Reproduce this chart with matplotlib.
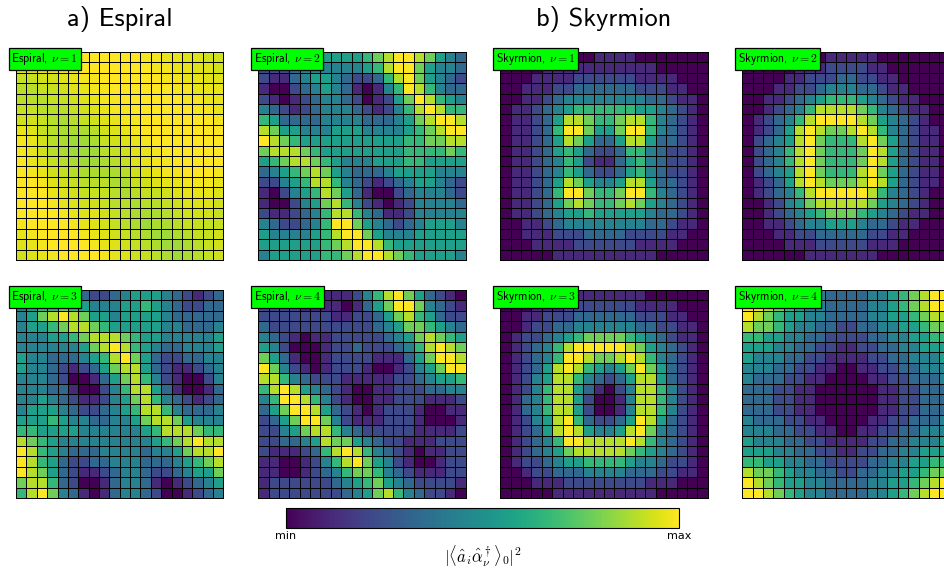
import numpy as np
import matplotlib.pyplot as plt
from matplotlib.cm import ScalarMappable
from matplotlib.colors import Normalize

plt.rcParams['mathtext.fontset'] = 'cm'

# intensity levels, 0 (dark) .. 9 (bright), 20x20 cells, top row first
espiral_1 = ["77888999999988776655", "66778899999998877665", "44556788999999887766",
             "33445678899999988777", "33344567889999998877", "44333456788999999887",
             "55432345678899999998", "76432223567899999999", "87532112456789999999",
             "87532111345678999999", "97643211234678899999", "98754322223567889998",
             "99865433322456778887", "99976544432344567776", "99987655433233456665",
             "99998766543222345554", "89999876543212234444", "78999987654321123445",
             "67899998765432112345", "56789999876543212345"]
espiral_2 = ["33344555556789987543", "22234444445689975443", "21134554322368975432",
             "10023454310146986433", "21012344320125798654", "43212344432124689866",
             "65333344443334578998", "87554445554444567899", "98765555555555667788",
             "78887655555555666676", "56788765444555665555", "34567875433345555444",
             "22456886432123455432", "10245687531002344432", "10024578642101244443",
             "21123468864311244444", "43223469975432345554", "54444568997544455555",
             "55555567899865555555", "45555566789987655554"]
espiral_3 = ["33455432234555432123", "45667654445565432233", "45789875545555433333",
             "45567887655555443334", "44455678887655444445", "44444457898654334445",
             "54433345689753223344", "54432123578853211234", "44432001357864210024",
             "44433100246885310013", "44543211245786432123", "45554322345688643334",
             "55565443344578875444", "66555544444456888766", "87654444444445678988",
             "98654333444434457889", "98653223344433345678", "98753211234432234557",
             "78863200134431012345", "68974310134432001234"]
espiral_4 = ["22221111124689753210", "22221111013579974321", "22222221122357865322",
             "32222222222345776543", "43210112222234578765", "54200012232223468987",
             "75310012222111357998", "97421012221001245799", "88643222111112234556",
             "68985432100112223344", "46998642100112221112", "35799853210122210011",
             "23579974211122210001", "22457886432222211112", "22334587754322111222",
             "21112368986432101122", "11001246897542100122", "11001234677643211122",
             "12222223456754322221", "12222222345786432210"]
skyrmion_1 = ["00000000011110000000", "00001111111111100000", "00011112222221111000",
              "00111223333332221100", "00112344444444332110", "01123456666665543210",
              "01123588766788643210", "01123699755799643210", "01123587533588533210",
              "01123565322366432210", "01123465211356432210", "01123465322356432210",
              "01123587544588533210", "01123699766799643210", "01123578766787543210",
              "01123455655555433210", "00112344444444332110", "00111222333322221100",
              "00011112222221111000", "00000111111111100000"]
skyrmion_2 = ["00000000111110000000", "00000111222211000000", "00001122233221100000",
              "00011223444332110000", "00112345666543211000", "00123468888764321100",
              "01234689999875432100", "01235898778986432110", "02345897666897532110",
              "02346897666798532110", "02346897666798532110", "02345897666897532110",
              "01235898777898532110", "01234689999986432100", "00124578888875432100",
              "00123456777654321100", "00112344555433211000", "00011223333322110000",
              "00001112222211100000", "00000011111110000000"]
skyrmion_3 = ["00000001111111000000", "00011122222221111000", "00112223333332221100",
              "00122334444443322110", "01223456777765432110", "01234689999987543210",
              "01234699877898643210", "01235898654579753210", "01245886432358853210",
              "01246885310248864210", "01346885200148864210", "01346885200148864210",
              "01245896322359853210", "01235898544589743210", "01234699888898643210",
              "01234578888876543210", "01223455666654432210", "00122333444433322110",
              "00011122222222111000", "00000111111111100000"]
skyrmion_4 = ["99876544333344567899", "99876544333344567899", "98765544333344556788",
              "87765443322334455677", "66554433222233445566", "55544332211223344555",
              "54443322111122334445", "44433221100112233444", "43332211000011223334",
              "33322110000001122333", "33322110000001122333", "33322110000001122333",
              "43332211000011223334", "44433221100112233444", "54443322111122334445",
              "55544332211223344555", "66554433222233445566", "87765443322334455677",
              "98765544333344556789", "99876544333344567899"]

# panel order: top row then bottom row
panels = [espiral_1, espiral_2, skyrmion_1, skyrmion_2,
          espiral_3, espiral_4, skyrmion_3, skyrmion_4]
labels = [r"Espiral, $\nu=1$", r"Espiral, $\nu=2$", r"Skyrmion, $\nu=1$", r"Skyrmion, $\nu=2$",
          r"Espiral, $\nu=3$", r"Espiral, $\nu=4$", r"Skyrmion, $\nu=3$", r"Skyrmion, $\nu=4$"]
# lowest colour reached in each panel (fraction of the colour scale)
floors = [0.84, 0, 0, 0, 0, 0, 0, 0]

fig = plt.figure(figsize=(9.44, 5.71), dpi=100)

lefts = [0.0170, 0.2736, 0.5300, 0.7863]
bottoms = [0.5447, 0.1278]
w, h = 0.2197, 0.3643

for k, rows in enumerate(panels):
    ax = fig.add_axes([lefts[k % 4], bottoms[k // 4], w, h])
    lev = np.array([[int(c) for c in r] for r in rows], dtype=float)
    vals = floors[k] + (1 - floors[k]) * lev / 9.0
    m = ax.pcolormesh(vals, cmap='viridis', vmin=0, vmax=1,
                      edgecolors='k', linewidth=0.6)
    m.set_clip_on(False)
    ax.set_xlim(0, 20)
    ax.set_ylim(20, 0)
    ax.axis('off')
    ax.text(-0.022, 0.966, labels[k], transform=ax.transAxes, ha='left', va='center',
            fontsize=8.5, family='cmss10', zorder=10,
            bbox=dict(boxstyle='square,pad=0.25', fc='#00ff00', ec='k', lw=0.9))

fig.text(120 / 944, 1 - 19 / 571, "a) Espiral", ha='center', va='center',
         fontsize=19, family='cmss10')
fig.text(604 / 944, 1 - 19 / 571, "b) Skyrmion", ha='center', va='center',
         fontsize=19, family='cmss10')

cax = fig.add_axes([0.303, 0.0753, 0.4163, 0.035])
cb = fig.colorbar(ScalarMappable(norm=Normalize(0, 1), cmap='viridis'), cax=cax,
                  orientation='horizontal')
cb.set_ticks([0, 1])
cb.set_ticklabels(['min', 'max'])
cax.tick_params(length=0, labelsize=8, pad=2)
cb.set_label(r'$|\langle\hat{a}_i\hat{\alpha}^\dagger_\nu\rangle_0|^2$', fontsize=12, labelpad=2)

fig.savefig('out.png', dpi=100)
